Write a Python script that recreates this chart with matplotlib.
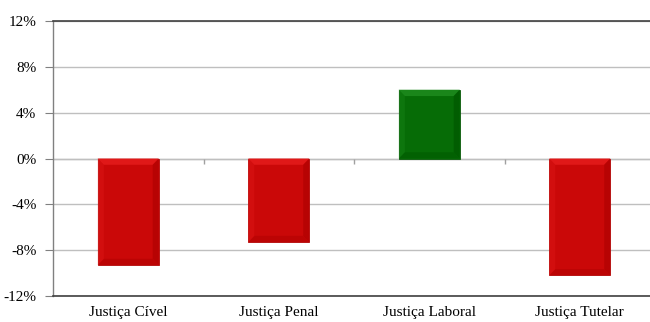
import matplotlib
matplotlib.use("Agg")
import matplotlib.pyplot as plt
from matplotlib.patches import Polygon
import numpy as np

categories = ["Justiça Cível", "Justiça Penal", "Justiça Laboral", "Justiça Tutelar"]
values = [-9.3, -7.3, 6.0, -10.2]
yticks = [-12, -8, -4, 0, 4, 8, 12]

plt.rcParams['font.family'] = ['Liberation Serif', 'DejaVu Serif']

fig = plt.figure(figsize=(6.5, 3.22), dpi=100)
ax = fig.add_axes([53/650, 1-296/322, (655-53)/650, (296-21)/322])

x = np.arange(len(categories))
colors = ['#CA0808' if v < 0 else '#066C06' for v in values]
light = ['#E01818' if v < 0 else '#1A861A' for v in values]
dark = ['#B00202' if v < 0 else '#005800' for v in values]
edge = ['#B40A0A' if v < 0 else '#0A5A0A' for v in values]
bars = ax.bar(x, values, width=0.405, color=colors, edgecolor=edge, linewidth=0.6, zorder=3)

bx, by = 0.04, 0.55
for b, lc, dc in zip(bars, light, dark):
    x0, w = b.get_x(), b.get_width()
    y0, h = b.get_y(), b.get_height()
    y1 = y0 + h
    ylo, yhi = min(y0, y1), max(y0, y1)
    x1 = x0 + w
    ax.add_patch(Polygon([[x0, yhi], [x1, yhi], [x1 - bx, yhi - by], [x0 + bx, yhi - by]],
                         closed=True, color=lc, lw=0, zorder=4))
    ax.add_patch(Polygon([[x1, yhi], [x1, ylo], [x1 - bx, ylo + by], [x1 - bx, yhi - by]],
                         closed=True, color=dc, lw=0, zorder=4, alpha=0.7))
    ax.add_patch(Polygon([[x0, ylo], [x1, ylo], [x1 - bx, ylo + by], [x0 + bx, ylo + by]],
                         closed=True, color=dc, lw=0, zorder=4, alpha=0.5))
    ax.add_patch(Polygon([[x0, yhi], [x0, ylo], [x0 + bx, ylo + by], [x0 + bx, yhi - by]],
                         closed=True, color=lc, lw=0, zorder=4, alpha=0.4))

ax.set_xlim(-0.5, len(categories) - 0.5)
ax.set_ylim(-12, 12)
ax.set_yticks(yticks)
ax.set_yticklabels([f"{t}%" for t in yticks], fontsize=11)
ax.set_xticks(x)
ax.set_xticklabels(categories, fontsize=11)
ax.tick_params(axis='x', length=0, pad=7)
ax.tick_params(axis='y', length=6, color='#808080', pad=6)

ax.grid(axis='y', color='#BFBFBF', linewidth=1.0, zorder=0)
ax.axhline(0, color='#BFBFBF', linewidth=1.0, zorder=1)
ax.vlines(np.arange(len(categories) - 1) + 0.5, -0.45, 0, color='#A0A0A0', linewidth=1.0, zorder=2)

ax.spines['right'].set_visible(False)
ax.spines['left'].set_color('#808080')
ax.spines['left'].set_linewidth(1.0)
ax.spines['bottom'].set_color('#404040')
ax.spines['bottom'].set_linewidth(1.2)
ax.spines['top'].set_color('#404040')
ax.spines['top'].set_linewidth(1.2)

fig.savefig("out.png", dpi=100)
